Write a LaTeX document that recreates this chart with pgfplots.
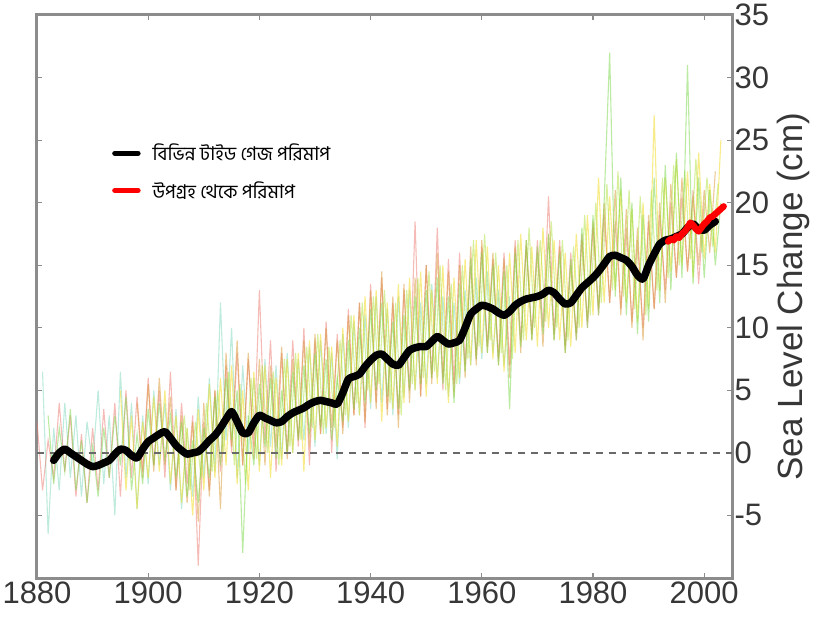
\documentclass[border=0pt]{standalone}
\usepackage{pgfplots}
\pgfplotsset{compat=1.18}
\usepackage{fontspec}
\setmainfont{Liberation Sans}
\newfontfamily\bnfont[Script=Bengali]{Hind Siliguri}
\definecolor{tickgray}{RGB}{55,55,55}
\definecolor{framegray}{RGB}{140,140,140}
\definecolor{cG}{RGB}{120,215,70}
\definecolor{cL}{RGB}{175,225,60}
\definecolor{cY}{RGB}{240,220,40}
\definecolor{cO}{RGB}{215,150,50}
\definecolor{cR}{RGB}{235,120,110}
\definecolor{cC}{RGB}{110,210,180}
\begin{document}
\begin{tikzpicture}
\path[use as bounding box] (-37pt,-43pt) rectangle (782pt,578pt);
\begin{axis}[
  at={(0pt,0pt)}, anchor=south west,
  scale only axis, width=695pt, height=563pt,
  xmin=1880, xmax=2005, ymin=-10, ymax=35,
  xtick={1880,1900,...,2000}, ytick={-5,0,...,35},
  /pgf/number format/1000 sep={},
  /pgf/number format/assume math mode=true,
  yticklabel pos=right,
  tick align=inside, major tick length=5pt,
  tick style={framegray, line width=1.2pt},
  axis line style={framegray, line width=3pt},
  ticklabel style={tickgray, font=\fontsize{31}{33}\selectfont},
  yticklabel style={anchor=west, xshift=-1pt},
  xticklabel style={yshift=0pt},
  ylabel={Sea Level Change (cm)},
  ylabel style={tickgray, font=\fontsize{35}{38}\selectfont, at={(axis description cs:1,0.5)}, anchor=center, yshift=-61pt},
  legend style={draw=none, fill=white, inner sep=2pt, at={(axis description cs:0.105,0.778)}, anchor=north west,
    font=\bnfont\fontsize{19}{23}\selectfont, row sep=15pt,
    /tikz/every odd column/.append style={column sep=10pt}},
  legend cell align=left,
  legend image code/.code={\draw[#1, line width=5.5pt] (0pt,0pt) -- (23pt,0pt);},
]
% individual tide gauge records (thin, faded)
\addplot[cC, line width=1.1pt, opacity=0.45, forget plot] coordinates {(1881,6.5)(1882,-6.5)(1883,2.0)(1884,-3.0)(1885,4.0)(1886,-2.0)(1887,3.0)(1888,-3.5)(1889,2.5)(1890,-1.0)(1891,5.0)(1892,-2.5)(1893,3.0)(1894,-5.0)(1895,6.5)(1896,-2.0)(1897,4.0)(1898,-4.5)(1899,3.0)(1900,-2.5)(1901,5.0)(1902,-1.0)(1903,4.0)(1904,-3.0)(1905,3.5)(1906,-4.5)(1907,2.0)(1908,-3.5)(1909,4.5)(1910,-2.0)(1911,6.0)(1912,-1.5)(1913,12.0)(1914,1.0)(1915,10.0)(1916,-2.0)(1917,7.0)(1918,0.0)(1919,6.0)(1920,-1.0)(1921,7.5)(1922,0.5)(1923,7.0)(1924,-0.5)(1925,8.0)(1926,0.0)(1927,7.5)(1928,1.0)(1929,8.5)(1930,0.5)(1931,9.0)(1932,1.5)(1933,8.0)(1934,-0.5)(1935,9.5)(1936,2.0)(1937,10.5)(1938,3.0)(1939,11.0)(1940,3.5)(1941,12.5)(1942,4.0)(1943,11.5)(1944,3.0)(1945,12.5)(1946,4.5)(1947,13.0)(1948,5.0)(1949,12.0)(1950,5.5)(1951,13.5)(1952,6.0)(1953,12.5)(1954,4.5)(1955,12.0)(1956,5.5)(1957,13.0)(1958,7.0)(1959,14.0)(1960,7.5)(1961,14.5)(1962,8.0)(1963,13.0)(1964,7.0)(1965,12.5)};
\addplot[cR, line width=1.1pt, opacity=0.5, forget plot] coordinates {(1880,2.5)(1881,-3.0)(1882,1.0)(1883,-2.0)(1884,4.0)(1885,-1.5)(1886,3.0)(1887,-3.5)(1888,1.5)(1889,-4.0)(1890,2.0)(1891,-3.0)(1892,3.5)(1893,-2.0)(1894,4.0)(1895,-3.5)(1896,5.0)(1897,-2.0)(1898,4.5)(1899,-1.5)(1900,6.0)(1901,-1.0)(1902,5.0)(1903,-2.0)(1904,6.5)(1905,-3.0)(1906,4.0)(1907,-2.5)(1908,3.0)(1909,-9.0)(1910,2.5)(1911,-3.0)(1912,5.0)(1913,-1.5)(1914,7.0)(1915,0.0)(1916,8.0)(1917,-1.0)(1918,7.5)(1919,0.5)(1920,13.0)(1921,1.0)(1922,9.0)(1923,-1.5)(1924,8.0)(1925,0.0)(1926,9.0)(1927,0.5)(1928,10.0)(1929,-1.0)(1930,9.0)(1931,1.5)(1932,10.5)(1933,0.0)(1934,9.5)(1935,2.0)(1936,11.5)(1937,3.0)(1938,12.0)(1939,2.0)(1940,13.5)(1941,4.0)(1942,14.0)(1943,3.5)(1944,12.0)(1945,3.0)(1946,13.0)(1947,5.0)(1948,18.5)(1949,4.5)(1950,15.0)(1951,6.0)(1952,18.0)(1953,5.0)(1954,15.5)(1955,5.5)(1956,16.0)(1957,7.0)(1958,15.0)(1959,7.5)(1960,16.5)(1961,8.5)(1962,15.5)(1963,7.5)(1964,16.0)(1965,7.0)(1966,17.0)(1967,9.0)(1968,16.5)(1969,9.5)(1970,17.0)(1971,10.0)(1972,20.5)(1973,9.5)(1974,17.0)(1975,8.5)(1976,16.0)(1977,9.0)(1978,17.5)(1979,10.0)(1980,18.0)(1981,11.0)(1982,19.0)(1983,12.0)(1984,18.5)(1985,11.5)(1986,18.0)(1987,10.5)(1988,17.0)(1989,10.0)(1990,18.5)(1991,11.5)(1992,19.0)(1993,13.0)(1994,20.0)(1995,14.0)(1996,20.5)(1997,14.5)(1998,21.0)(1999,13.5)(2000,20.0)};
\addplot[cO, line width=1.1pt, opacity=0.5, forget plot] coordinates {(1898,4.0)(1899,-2.0)(1900,5.5)(1901,-1.5)(1902,6.0)(1903,-1.0)(1904,4.5)(1905,-3.0)(1906,3.0)(1907,-4.0)(1908,2.5)(1909,-5.5)(1910,4.0)(1911,-3.5)(1912,5.0)(1913,-4.5)(1914,8.0)(1915,0.5)(1916,9.0)(1917,-1.0)(1918,8.0)(1919,-0.5)(1920,7.5)(1921,-1.0)(1922,7.0)(1923,0.5)(1924,8.5)(1925,-0.5)(1926,7.5)(1927,1.0)(1928,9.0)(1929,0.5)(1930,9.5)(1931,1.5)(1932,10.0)(1933,2.0)(1934,9.0)(1935,1.5)(1936,11.0)(1937,3.0)(1938,12.0)(1939,2.5)(1940,13.0)(1941,3.5)(1942,14.5)(1943,3.0)(1944,12.5)(1945,2.0)(1946,13.5)(1947,4.0)(1948,14.0)(1949,4.5)(1950,15.0)(1951,5.5)(1952,16.0)(1953,6.0)(1954,14.5)(1955,4.5)(1956,15.0)(1957,6.0)(1958,16.5)(1959,7.0)(1960,17.0)(1961,8.0)(1962,16.0)(1963,7.0)(1964,15.5)(1965,6.0)(1966,16.5)(1967,8.0)(1968,17.0)(1969,9.0)(1970,16.0)(1971,8.5)(1972,17.5)(1973,9.0)(1974,16.5)(1975,8.0)(1976,15.0)(1977,9.5)(1978,17.0)(1979,10.5)(1980,18.5)(1981,11.5)(1982,20.0)(1983,12.0)(1984,21.0)(1985,11.0)(1986,19.5)(1987,10.0)(1988,18.0)(1989,9.0)(1990,19.0)(1991,11.5)(1992,20.0)(1993,12.0)(1994,21.5)(1995,14.0)(1996,22.0)(1997,14.5)(1998,20.5)(1999,15.0)(2000,21.0)(2001,16.0)(2002,22.5)};
\addplot[cY, line width=1.1pt, opacity=0.55, forget plot] coordinates {(1895,5.0)(1896,-3.0)(1897,3.0)(1898,-4.5)(1899,2.5)(1900,-2.0)(1901,4.5)(1902,-1.5)(1903,5.0)(1904,-2.5)(1905,3.0)(1906,-4.0)(1907,2.0)(1908,-5.0)(1909,3.5)(1910,-3.0)(1911,5.5)(1912,-2.0)(1913,6.0)(1914,-1.0)(1915,7.0)(1916,-2.5)(1917,5.0)(1918,-3.0)(1919,6.5)(1920,-1.5)(1921,7.0)(1922,-2.0)(1923,6.0)(1924,-1.0)(1925,7.5)(1926,0.0)(1927,8.0)(1928,-1.5)(1929,9.0)(1930,1.0)(1931,9.5)(1932,2.0)(1933,8.5)(1934,0.5)(1935,10.0)(1936,2.5)(1937,11.0)(1938,3.0)(1939,12.5)(1940,4.0)(1941,13.0)(1942,2.5)(1943,12.0)(1944,3.5)(1945,13.5)(1946,4.0)(1947,14.0)(1948,5.0)(1949,14.5)(1950,4.5)(1951,13.0)(1952,5.5)(1953,15.0)(1954,4.0)(1955,14.0)(1956,6.0)(1957,15.5)(1958,7.0)(1959,17.0)(1960,8.0)(1961,16.5)(1962,7.5)(1963,15.0)(1964,6.5)(1965,16.0)(1966,8.0)(1967,17.5)(1968,9.0)(1969,16.5)(1970,8.5)(1971,18.0)(1972,10.0)(1973,17.0)(1974,9.0)(1975,16.0)(1976,8.5)(1977,17.5)(1978,10.0)(1979,19.0)(1980,11.0)(1981,22.0)(1982,12.0)(1983,20.5)(1984,13.0)(1985,21.0)(1986,12.0)(1987,19.5)(1988,10.5)(1989,20.0)(1990,11.5)(1991,27.0)(1992,13.0)(1993,22.0)(1994,14.5)(1995,23.5)(1996,15.0)(1997,22.5)(1998,14.0)(1999,24.0)(2000,15.5)(2001,21.5)(2002,16.0)(2003,25.0)};
\addplot[cL, line width=1.1pt, opacity=0.5, forget plot] coordinates {(1905.5,-1.0)(1906.5,3.0)(1907.5,-3.0)(1908.5,2.5)(1909.5,-2.0)(1910.5,4.0)(1911.5,-1.5)(1912.5,5.0)(1913.5,0.0)(1914.5,6.5)(1915.5,-1.0)(1916.5,5.5)(1917.5,-2.5)(1918.5,6.0)(1919.5,-0.5)(1920.5,7.0)(1921.5,0.0)(1922.5,6.5)(1923.5,-1.0)(1924.5,7.5)(1925.5,0.5)(1926.5,8.0)(1927.5,1.0)(1928.5,8.5)(1929.5,2.0)(1930.5,9.5)(1931.5,1.5)(1932.5,8.5)(1933.5,2.0)(1934.5,9.0)(1935.5,3.0)(1936.5,11.0)(1937.5,4.0)(1938.5,12.0)(1939.5,5.0)(1940.5,12.5)(1941.5,5.5)(1942.5,13.0)(1943.5,4.0)(1944.5,12.0)(1945.5,3.0)(1946.5,13.0)(1947.5,5.5)(1948.5,14.0)(1949.5,6.0)(1950.5,14.5)(1951.5,6.5)(1952.5,15.0)(1953.5,5.0)(1954.5,13.5)(1955.5,5.5)(1956.5,15.0)(1957.5,7.5)(1958.5,17.0)(1959.5,8.5)(1960.5,17.5)(1961.5,9.0)(1962.5,16.0)(1963.5,8.0)(1964.5,15.0)(1965.5,7.5)(1966.5,17.0)(1967.5,9.0)(1968.5,18.0)(1969.5,10.0)(1970.5,17.0)(1971.5,10.5)(1972.5,18.5)(1973.5,10.0)(1974.5,17.0)(1975.5,9.0)(1976.5,16.5)(1977.5,10.0)(1978.5,19.0)(1979.5,11.0)(1980.5,20.0)(1981.5,12.0)(1982.5,21.5)(1983.5,13.0)(1984.5,22.5)(1985.5,12.5)(1986.5,21.0)(1987.5,11.5)(1988.5,20.5)(1989.5,11.0)(1990.5,21.0)(1991.5,13.0)(1992.5,22.0)(1993.5,14.0)(1994.5,23.0)(1995.5,15.0)(1996.5,22.5)(1997.5,15.5)(1998.5,23.5)(1999.5,16.0)(2000.5,22.0)(2001.5,16.5)(2002.5,21.5)};
\addplot[cG, line width=1.1pt, opacity=0.5, forget plot] coordinates {(1882,3.0)(1883,-2.5)(1884,2.0)(1885,-1.5)(1886,3.5)(1887,-3.0)(1888,1.0)(1889,-4.0)(1890,0.5)(1891,-3.5)(1892,2.0)(1893,-2.0)(1894,3.0)(1895,-1.0)(1896,4.5)(1897,-3.0)(1898,1.5)(1899,-2.5)(1900,3.5)(1901,-1.0)(1902,4.0)(1903,-0.5)(1904,3.0)(1905,-2.0)(1906,2.5)(1907,-3.5)(1908,1.0)(1909,-4.0)(1910,2.0)(1911,-2.0)(1912,4.5)(1913,-1.0)(1914,6.0)(1915,1.0)(1916,5.0)(1917,-8.0)(1918,3.0)(1919,-1.0)(1920,5.5)(1921,0.5)(1922,6.0)(1923,-0.5)(1924,5.0)(1925,0.0)(1926,6.5)(1927,1.0)(1928,7.0)(1929,1.5)(1930,8.0)(1931,2.0)(1932,7.5)(1933,1.0)(1934,6.0)(1935,2.5)(1936,9.0)(1937,3.5)(1938,10.0)(1939,4.0)(1940,11.5)(1941,5.0)(1942,12.0)(1943,4.5)(1944,10.5)(1945,3.5)(1946,11.0)(1947,5.0)(1948,12.5)(1949,5.5)(1950,13.0)(1951,6.0)(1952,14.0)(1953,5.5)(1954,12.5)(1955,4.0)(1956,13.5)(1957,6.5)(1958,15.5)(1959,7.5)(1960,16.0)(1961,8.0)(1962,15.0)(1963,7.0)(1964,14.5)(1965,3.5)(1966,16.0)(1967,8.5)(1968,17.0)(1969,9.0)(1970,16.5)(1971,9.5)(1972,17.5)(1973,9.0)(1974,16.0)(1975,8.0)(1976,15.5)(1977,9.0)(1978,18.0)(1979,10.0)(1980,19.0)(1981,11.0)(1982,20.0)(1983,32.0)(1984,12.5)(1985,22.0)(1986,11.0)(1987,20.0)(1988,9.5)(1989,19.0)(1990,10.5)(1991,22.0)(1992,12.0)(1993,23.0)(1994,13.0)(1995,24.0)(1996,14.0)(1997,31.0)(1998,13.5)(1999,22.0)(2000,14.0)(2001,21.0)(2002,15.0)(2003,20.0)};
% zero line
\addplot[tickgray!75, line width=1.5pt, dash pattern=on 7pt off 6pt, forget plot] coordinates {(1880,0)(2005,0)};
% tide gauge average
\addplot[black, line width=7.5pt, line join=round, line cap=round, smooth, tension=0.4] coordinates {(1883,-0.6)(1884,0)(1885,0.3)(1886,0)(1887,-0.3)(1888,-0.6)(1889,-0.9)(1890,-1.1)(1891,-1.0)(1892,-0.8)(1893,-0.6)(1894,-0.1)(1895,0.3)(1896,0.2)(1897,-0.2)(1898,-0.4)(1899,0.3)(1900,0.9)(1901,1.2)(1902,1.5)(1903,1.7)(1904,1.2)(1905,0.6)(1906,0.2)(1907,-0.1)(1908,0)(1909,0.1)(1910,0.5)(1911,1.0)(1912,1.4)(1913,2.0)(1914,2.7)(1915,3.3)(1916,2.5)(1917,1.6)(1918,1.6)(1919,2.4)(1920,3.0)(1921,2.8)(1922,2.6)(1923,2.4)(1924,2.5)(1925,2.9)(1926,3.2)(1927,3.4)(1928,3.6)(1929,3.9)(1930,4.1)(1931,4.2)(1932,4.1)(1933,4.0)(1934,3.9)(1935,4.8)(1936,5.9)(1937,6.1)(1938,6.3)(1939,6.9)(1940,7.4)(1941,7.8)(1942,7.9)(1943,7.5)(1944,7.1)(1945,7.0)(1946,7.6)(1947,8.2)(1948,8.4)(1949,8.5)(1950,8.5)(1951,8.9)(1952,9.3)(1953,9.0)(1954,8.7)(1955,8.8)(1956,9.0)(1957,10.0)(1958,11.1)(1959,11.5)(1960,11.8)(1961,11.7)(1962,11.5)(1963,11.2)(1964,11.0)(1965,11.3)(1966,11.8)(1967,12.1)(1968,12.3)(1969,12.4)(1970,12.5)(1971,12.7)(1972,13.0)(1973,12.8)(1974,12.3)(1975,11.9)(1976,12.0)(1977,12.6)(1978,13.2)(1979,13.6)(1980,14.0)(1981,14.5)(1982,15.1)(1983,15.7)(1984,15.8)(1985,15.6)(1986,15.4)(1987,14.9)(1988,14.2)(1989,13.9)(1990,15.0)(1991,15.9)(1992,16.7)(1993,17.0)(1994,17.1)(1995,17.3)(1996,17.5)(1997,18.0)(1998,18.3)(1999,17.9)(2000,17.8)(2001,18.2)(2002,18.5)};
\addlegendentry{বিভিন্ন টাইড গেজ পরিমাপ}
% satellite
\addplot[red, line width=6.5pt, line join=round, line cap=round] coordinates {(1993.5,16.9)(1994,17.1)(1994.5,17.0)(1995,17.3)(1995.5,17.2)(1996,17.5)(1996.5,17.7)(1997,18.0)(1997.5,18.4)(1998,18.2)(1998.5,17.9)(1999,17.7)(1999.5,18.0)(2000,18.3)(2000.5,18.5)(2001,18.8)(2001.5,18.9)(2002,19.1)(2002.5,19.3)(2003,19.5)(2003.5,19.7)};
\addlegendentry{উপগ্রহ থেকে পরিমাপ}
\end{axis}
\end{tikzpicture}
\end{document}
